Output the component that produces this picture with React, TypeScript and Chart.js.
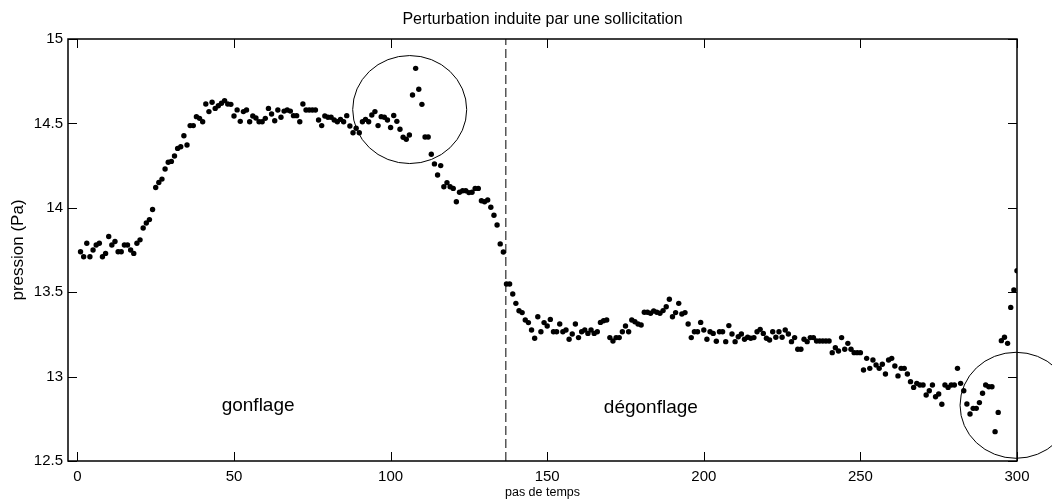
import React, { useEffect, useRef } from "react";
import { Chart, registerables } from "chart.js";

Chart.register(...registerables);

const TITLE = "Perturbation induite par une sollicitation";
const X_LABEL = "pas de temps";
const Y_LABEL = "pression (Pa)";

const X_MIN = -3;
const X_MAX = 300;
const Y_MIN = 12.5;
const Y_MAX = 15;
const X_TICKS = [0, 50, 100, 150, 200, 250, 300];
const Y_TICKS = [12.5, 13, 13.5, 14, 14.5, 15];

const FIRST_STEP = 1;

// pressure (Pa) for time steps 1..300
const PRESSURE = [
  13.74, 13.71, 13.79, 13.71, 13.75, 13.78, 13.79, 13.71, 13.73, 13.83,
  13.78, 13.8, 13.74, 13.74, 13.78, 13.78, 13.75, 13.73, 13.79, 13.81,
  13.88, 13.91, 13.93, 13.99, 14.12, 14.15, 14.17, 14.23, 14.27, 14.275,
  14.307, 14.352, 14.362, 14.427, 14.372, 14.487, 14.487, 14.54, 14.53, 14.51,
  14.615, 14.57, 14.625, 14.589, 14.605, 14.619, 14.635, 14.615, 14.613, 14.544,
  14.58, 14.512, 14.57, 14.579, 14.51, 14.544, 14.532, 14.51, 14.51, 14.53,
  14.589, 14.556, 14.516, 14.579, 14.536, 14.573, 14.579, 14.573, 14.546, 14.546,
  14.51, 14.615, 14.579, 14.579, 14.579, 14.579, 14.52, 14.487, 14.544, 14.536,
  14.536, 14.52, 14.51, 14.524, 14.51, 14.546, 14.485, 14.445, 14.471, 14.445,
  14.51, 14.524, 14.51, 14.55, 14.57, 14.487, 14.54, 14.536, 14.52, 14.476,
  14.547, 14.512, 14.465, 14.418, 14.406, 14.431, 14.668, 14.826, 14.702, 14.613,
  14.419, 14.419, 14.317, 14.26, 14.194, 14.25, 14.125, 14.149, 14.125, 14.115,
  14.036, 14.092, 14.101, 14.101, 14.09, 14.092, 14.115, 14.115, 14.042, 14.036,
  14.046, 14.003, 13.956, 13.898, 13.786, 13.738, 13.549, 13.549, 13.489, 13.434,
  13.39, 13.379, 13.335, 13.32, 13.276, 13.227, 13.355, 13.266, 13.32, 13.3,
  13.339, 13.266, 13.266, 13.312, 13.266, 13.276, 13.221, 13.252, 13.312, 13.231,
  13.266, 13.276, 13.256, 13.276, 13.256, 13.266, 13.321, 13.331, 13.335, 13.231,
  13.211, 13.231, 13.231, 13.266, 13.3, 13.266, 13.335, 13.325, 13.312, 13.306,
  13.381, 13.381, 13.375, 13.389, 13.381, 13.375, 13.391, 13.414, 13.458, 13.355,
  13.379, 13.434, 13.371, 13.379, 13.312, 13.231, 13.266, 13.266, 13.321, 13.276,
  13.221, 13.266, 13.256, 13.209, 13.266, 13.266, 13.207, 13.302, 13.252, 13.207,
  13.236, 13.252, 13.221, 13.233, 13.227, 13.231, 13.266, 13.28, 13.256, 13.227,
  13.217, 13.266, 13.233, 13.266, 13.233, 13.276, 13.252, 13.207, 13.231, 13.162,
  13.162, 13.221, 13.207, 13.231, 13.231, 13.211, 13.211, 13.211, 13.211, 13.211,
  13.142, 13.171, 13.152, 13.231, 13.162, 13.197, 13.162, 13.142, 13.142, 13.142,
  13.039, 13.108, 13.049, 13.098, 13.069, 13.049, 13.073, 13.015, 13.098, 13.108,
  13.063, 13.004, 13.049, 13.049, 13.015, 12.97, 12.936, 12.96, 12.95, 12.95,
  12.891, 12.916, 12.95, 12.881, 12.897, 12.836, 12.95, 12.936, 12.95, 12.95,
  13.049, 12.96, 12.916, 12.838, 12.778, 12.812, 12.812, 12.846, 12.901, 12.95,
  12.94, 12.94, 12.674, 12.788, 13.213, 13.233, 13.197, 13.41, 13.513, 13.627,
];

const SPLIT_STEP = 136.8;

const PHASE_LABELS = ["gonflage", "dégonflage"];
const PHASE_LABEL_X = [57.7, 183.1];
const PHASE_LABEL_Y = [12.797, 12.787];

const CIRCLE_X = [106.1, 299.7];
const CIRCLE_Y = [14.582, 12.83];

const FONT = "'Liberation Sans', Arial, Helvetica, sans-serif";

const framePlugin = {
  id: "matlabFrame",
  afterDatasetsDraw(chart: any) {
    const { ctx, chartArea, scales } = chart;
    const { left, right, top, bottom } = chartArea;
    const xs = scales.x;
    const ys = scales.y;
    const tickLen = 9;
    ctx.save();
    ctx.strokeStyle = "#000";
    ctx.lineWidth = 1;
    ctx.beginPath();
    X_TICKS.forEach((v) => {
      const px = Math.round(xs.getPixelForValue(v)) + 0.5;
      ctx.moveTo(px, bottom);
      ctx.lineTo(px, bottom - tickLen);
      ctx.moveTo(px, top);
      ctx.lineTo(px, top + tickLen);
    });
    Y_TICKS.forEach((v) => {
      const py = Math.round(ys.getPixelForValue(v)) + 0.5;
      ctx.moveTo(left, py);
      ctx.lineTo(left + tickLen, py);
      ctx.moveTo(right, py);
      ctx.lineTo(right - tickLen, py);
    });
    ctx.stroke();
    ctx.lineWidth = 1.5;
    ctx.strokeRect(left, top, right - left, bottom - top);
    ctx.lineWidth = 1;
    const radii = [
      [57, 54],
      [56, 53],
    ];
    CIRCLE_X.forEach((cx, i) => {
      ctx.beginPath();
      ctx.ellipse(
        xs.getPixelForValue(cx),
        ys.getPixelForValue(CIRCLE_Y[i]),
        radii[i][0],
        radii[i][1],
        0,
        0,
        Math.PI * 2
      );
      ctx.stroke();
    });
    ctx.fillStyle = "#000";
    ctx.font = `19px ${FONT}`;
    ctx.textAlign = "center";
    ctx.textBaseline = "alphabetic";
    PHASE_LABELS.forEach((t, i) => {
      ctx.fillText(t, xs.getPixelForValue(PHASE_LABEL_X[i]), ys.getPixelForValue(PHASE_LABEL_Y[i]));
    });
    ctx.restore();
  },
};

export default function App() {
  const ref = useRef<HTMLCanvasElement | null>(null);

  useEffect(() => {
    if (!ref.current) return;
    const points = PRESSURE.map((p, i) => ({ x: FIRST_STEP + i, y: p }));
    const chart = new Chart(ref.current, {
      type: "scatter",
      data: {
        datasets: [
          {
            type: "line",
            label: "séparation",
            data: [
              { x: SPLIT_STEP, y: Y_MIN },
              { x: SPLIT_STEP, y: Y_MAX },
            ],
            borderColor: "#000",
            borderWidth: 1,
            borderDash: [9, 4],
            pointRadius: 0,
            fill: false,
          } as any,
          {
            type: "scatter",
            label: "pression",
            data: points,
            pointRadius: 2.7,
            pointHoverRadius: 2.7,
            backgroundColor: "#000",
            borderWidth: 0,
          },
        ],
      },
      options: {
        responsive: false,
        animation: false,
        devicePixelRatio: 1,
        layout: { padding: { left: 0, right: 35, top: 0, bottom: 0 } },
        plugins: {
          legend: { display: false },
          tooltip: { enabled: false },
          title: {
            display: true,
            text: TITLE,
            fullSize: false,
            color: "#000",
            font: { family: FONT, size: 16, weight: "normal" },
            padding: { top: 9.8, bottom: 10 },
          },
        },
        scales: {
          x: {
            type: "linear",
            min: X_MIN,
            max: X_MAX,
            grid: { display: false, drawTicks: false },
            border: { display: false },
            afterBuildTicks: (s: any) => {
              s.ticks = X_TICKS.map((value) => ({ value }));
            },
            afterFit: (s: any) => {
              s.height = 41;
            },
            ticks: {
              color: "#000",
              font: { family: FONT, size: 15 },
              padding: 7,
              maxRotation: 0,
              autoSkip: false,
              callback: (v: any) => String(v),
            },
            title: {
              display: true,
              text: X_LABEL,
              color: "#000",
              font: { family: FONT, size: 12.5 },
              padding: { top: 0, bottom: 1.5 },
            },
          },
          y: {
            type: "linear",
            min: Y_MIN,
            max: Y_MAX,
            grid: { display: false, drawTicks: false },
            border: { display: false },
            afterBuildTicks: (s: any) => {
              s.ticks = Y_TICKS.map((value) => ({ value }));
            },
            afterFit: (s: any) => {
              s.width = 68;
            },
            ticks: {
              color: "#000",
              font: { family: FONT, size: 15 },
              padding: 5,
              autoSkip: false,
              callback: (v: any) => String(v),
            },
            title: {
              display: true,
              text: Y_LABEL,
              color: "#000",
              font: { family: FONT, size: 17 },
              padding: { top: 8.1, bottom: 0 },
            },
          },
        },
      },
      plugins: [framePlugin],
    });
    return () => chart.destroy();
  }, []);

  return (
    <div style={{ position: "fixed", left: 0, top: 0, width: 1052, height: 502, background: "#fff" }}>
      <canvas ref={ref} width={1052} height={502} style={{ display: "block" }} />
    </div>
  );
}
